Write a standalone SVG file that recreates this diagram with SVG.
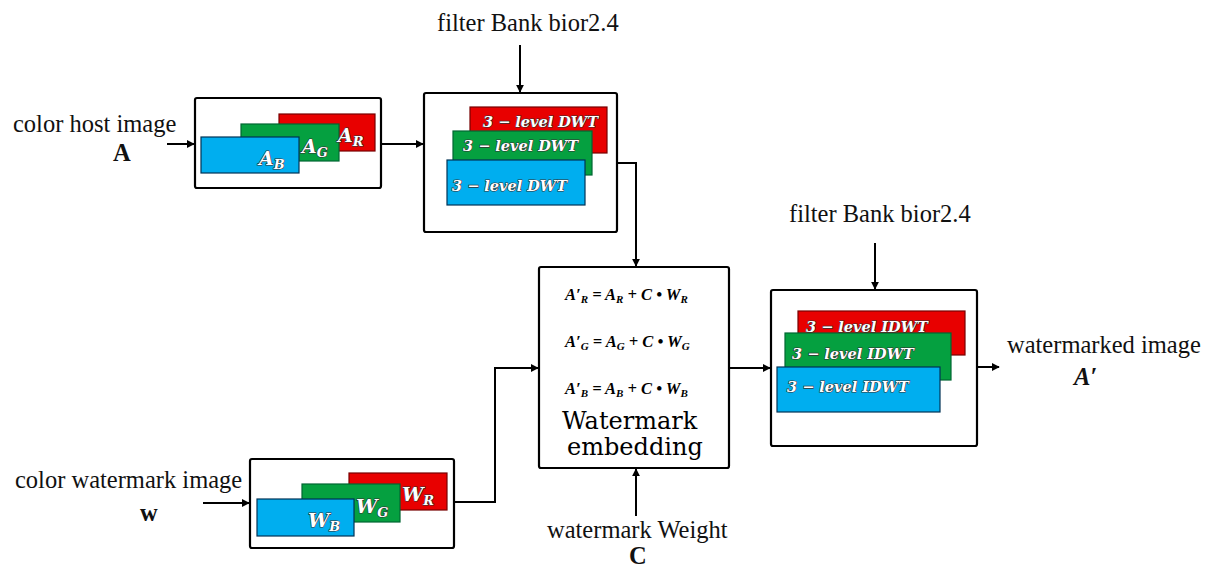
<svg xmlns="http://www.w3.org/2000/svg" width="1211" height="568" viewBox="0 0 1211 568">
<style>
.box{fill:#fff;stroke:#000;stroke-width:2.2}
.r{fill:#e80000;stroke:#700;stroke-width:1.2}
.g{fill:#05a040;stroke:#063;stroke-width:1.2}
.b{fill:#00aeef;stroke:#035;stroke-width:1.2}
.lbl{font-family:"Liberation Serif",serif;font-size:24.5px;fill:#111}
.ch{font-family:"DejaVu Serif","Liberation Serif",serif;font-weight:bold;font-style:italic;fill:#fff;stroke:#333;stroke-width:1.2;paint-order:stroke}
.dwt{font-family:"DejaVu Serif","Liberation Serif",serif;font-weight:bold;font-style:italic;font-size:14.5px;fill:#fff;stroke:#333;stroke-width:1.2;paint-order:stroke}
.eq{font-family:"Liberation Serif",serif;font-weight:bold;font-style:italic;font-size:16.5px;fill:#000}
.big{font-family:"DejaVu Serif","Liberation Serif",serif;font-size:24px;fill:#000}
.c{fill:none;stroke:#000;stroke-width:2}
</style>
<defs>
<marker id="ah" viewBox="0 0 10 10" refX="9" refY="5" markerWidth="4" markerHeight="4" orient="auto" markerUnits="strokeWidth">
<path d="M0,0 L10,5 L0,10 z" fill="#000"/>
</marker>
</defs>

<g id="connectors">
<path class="c" d="M167,144 H194" marker-end="url(#ah)"/>
<path class="c" d="M381,144 H423" marker-end="url(#ah)"/>
<path class="c" d="M520,45 V92" marker-end="url(#ah)"/>
<path class="c" d="M617,163 H636 V266" marker-end="url(#ah)"/>
<path class="c" d="M203,503 H249" marker-end="url(#ah)"/>
<path class="c" d="M454,502 H495 V368 H538" marker-end="url(#ah)"/>
<path class="c" d="M636,516 V469" marker-end="url(#ah)"/>
<path class="c" d="M729,368 H770" marker-end="url(#ah)"/>
<path class="c" d="M875,243 V289" marker-end="url(#ah)"/>
<path class="c" d="M977,367 H999" marker-end="url(#ah)"/>
</g>

<g id="host-input">
<text class="lbl" x="13" y="132">color host image</text>
<text class="lbl" x="113" y="161" font-size="14" font-weight="bold">A</text>
</g>

<g id="host-image">
<rect class="box" x="195" y="98" width="186" height="90" rx="2"/>
<rect class="r" x="279" y="114" width="96" height="37"/>
<rect class="g" x="241" y="124" width="98" height="37"/>
<rect class="b" x="201" y="137" width="98" height="36"/>
<text class="ch" x="338" y="142" font-size="19">A<tspan font-size="13" dy="4">R</tspan></text>
<text class="ch" x="302" y="153" font-size="19">A<tspan font-size="13" dy="4">G</tspan></text>
<text class="ch" x="259" y="165" font-size="19">A<tspan font-size="13" dy="4">B</tspan></text>
</g>

<g id="dwt">
<text class="lbl" x="437" y="31">filter Bank bior2.4</text>
<rect class="box" x="424" y="93" width="193" height="139" rx="2"/>
<rect class="r" x="470" y="107" width="137" height="46"/>
<rect class="g" x="453" y="131" width="139" height="44"/>
<rect class="b" x="447" y="160" width="138" height="45"/>
<text class="dwt" x="483" y="127">3 − level DWT</text>
<text class="dwt" x="463" y="151">3 − level DWT</text>
<text class="dwt" x="452" y="191">3 − level DWT</text>
</g>

<g id="embedding">
<rect class="box" x="539" y="267" width="190" height="201" rx="2"/>
<text class="eq" x="565" y="300">A′<tspan font-size="11" dy="3">R</tspan><tspan dy="-3"> = A</tspan><tspan font-size="11" dy="3">R</tspan><tspan dy="-3"> + C • W</tspan><tspan font-size="11" dy="3">R</tspan></text>
<text class="eq" x="565" y="347">A′<tspan font-size="11" dy="3">G</tspan><tspan dy="-3"> = A</tspan><tspan font-size="11" dy="3">G</tspan><tspan dy="-3"> + C • W</tspan><tspan font-size="11" dy="3">G</tspan></text>
<text class="eq" x="565" y="394">A′<tspan font-size="11" dy="3">B</tspan><tspan dy="-3"> = A</tspan><tspan font-size="11" dy="3">B</tspan><tspan dy="-3"> + C • W</tspan><tspan font-size="11" dy="3">B</tspan></text>
<text class="big" x="562" y="429">Watermark</text>
<text class="big" x="567" y="455">embedding</text>
</g>

<g id="idwt">
<text class="lbl" x="789" y="222">filter Bank bior2.4</text>
<rect class="box" x="771" y="290" width="206" height="156" rx="2"/>
<rect class="r" x="798" y="311" width="167" height="44"/>
<rect class="g" x="785" y="333" width="166" height="47"/>
<rect class="b" x="777" y="367" width="163" height="45"/>
<text class="dwt" x="806" y="332" font-size="17">3 − level IDWT</text>
<text class="dwt" x="792" y="359" font-size="17">3 − level IDWT</text>
<text class="dwt" x="787" y="392" font-size="17">3 − level IDWT</text>
</g>

<g id="output">
<text class="lbl" x="1007" y="353">watermarked image</text>
<text class="lbl" x="1074" y="385" font-size="12" font-weight="bold" font-style="italic">A′</text>
</g>

<g id="wm-input">
<text class="lbl" x="15" y="488">color watermark image</text>
<text class="lbl" x="140" y="521" font-size="17" font-weight="bold">w</text>
</g>

<g id="wm-image">
<rect class="box" x="250" y="459" width="204" height="89" rx="2"/>
<rect class="r" x="349" y="473" width="98" height="37"/>
<rect class="g" x="302" y="484" width="98" height="38"/>
<rect class="b" x="257" y="499" width="97" height="37"/>
<text class="ch" x="402" y="501" font-size="19">W<tspan font-size="13" dy="4">R</tspan></text>
<text class="ch" x="356" y="513" font-size="19">W<tspan font-size="13" dy="4">G</tspan></text>
<text class="ch" x="308" y="527" font-size="19">W<tspan font-size="13" dy="4">B</tspan></text>
</g>

<g id="weight">
<text class="lbl" x="547" y="538">watermark Weight</text>
<text class="lbl" x="629" y="564" font-size="18" font-weight="bold">C</text>
</g>
</svg>
